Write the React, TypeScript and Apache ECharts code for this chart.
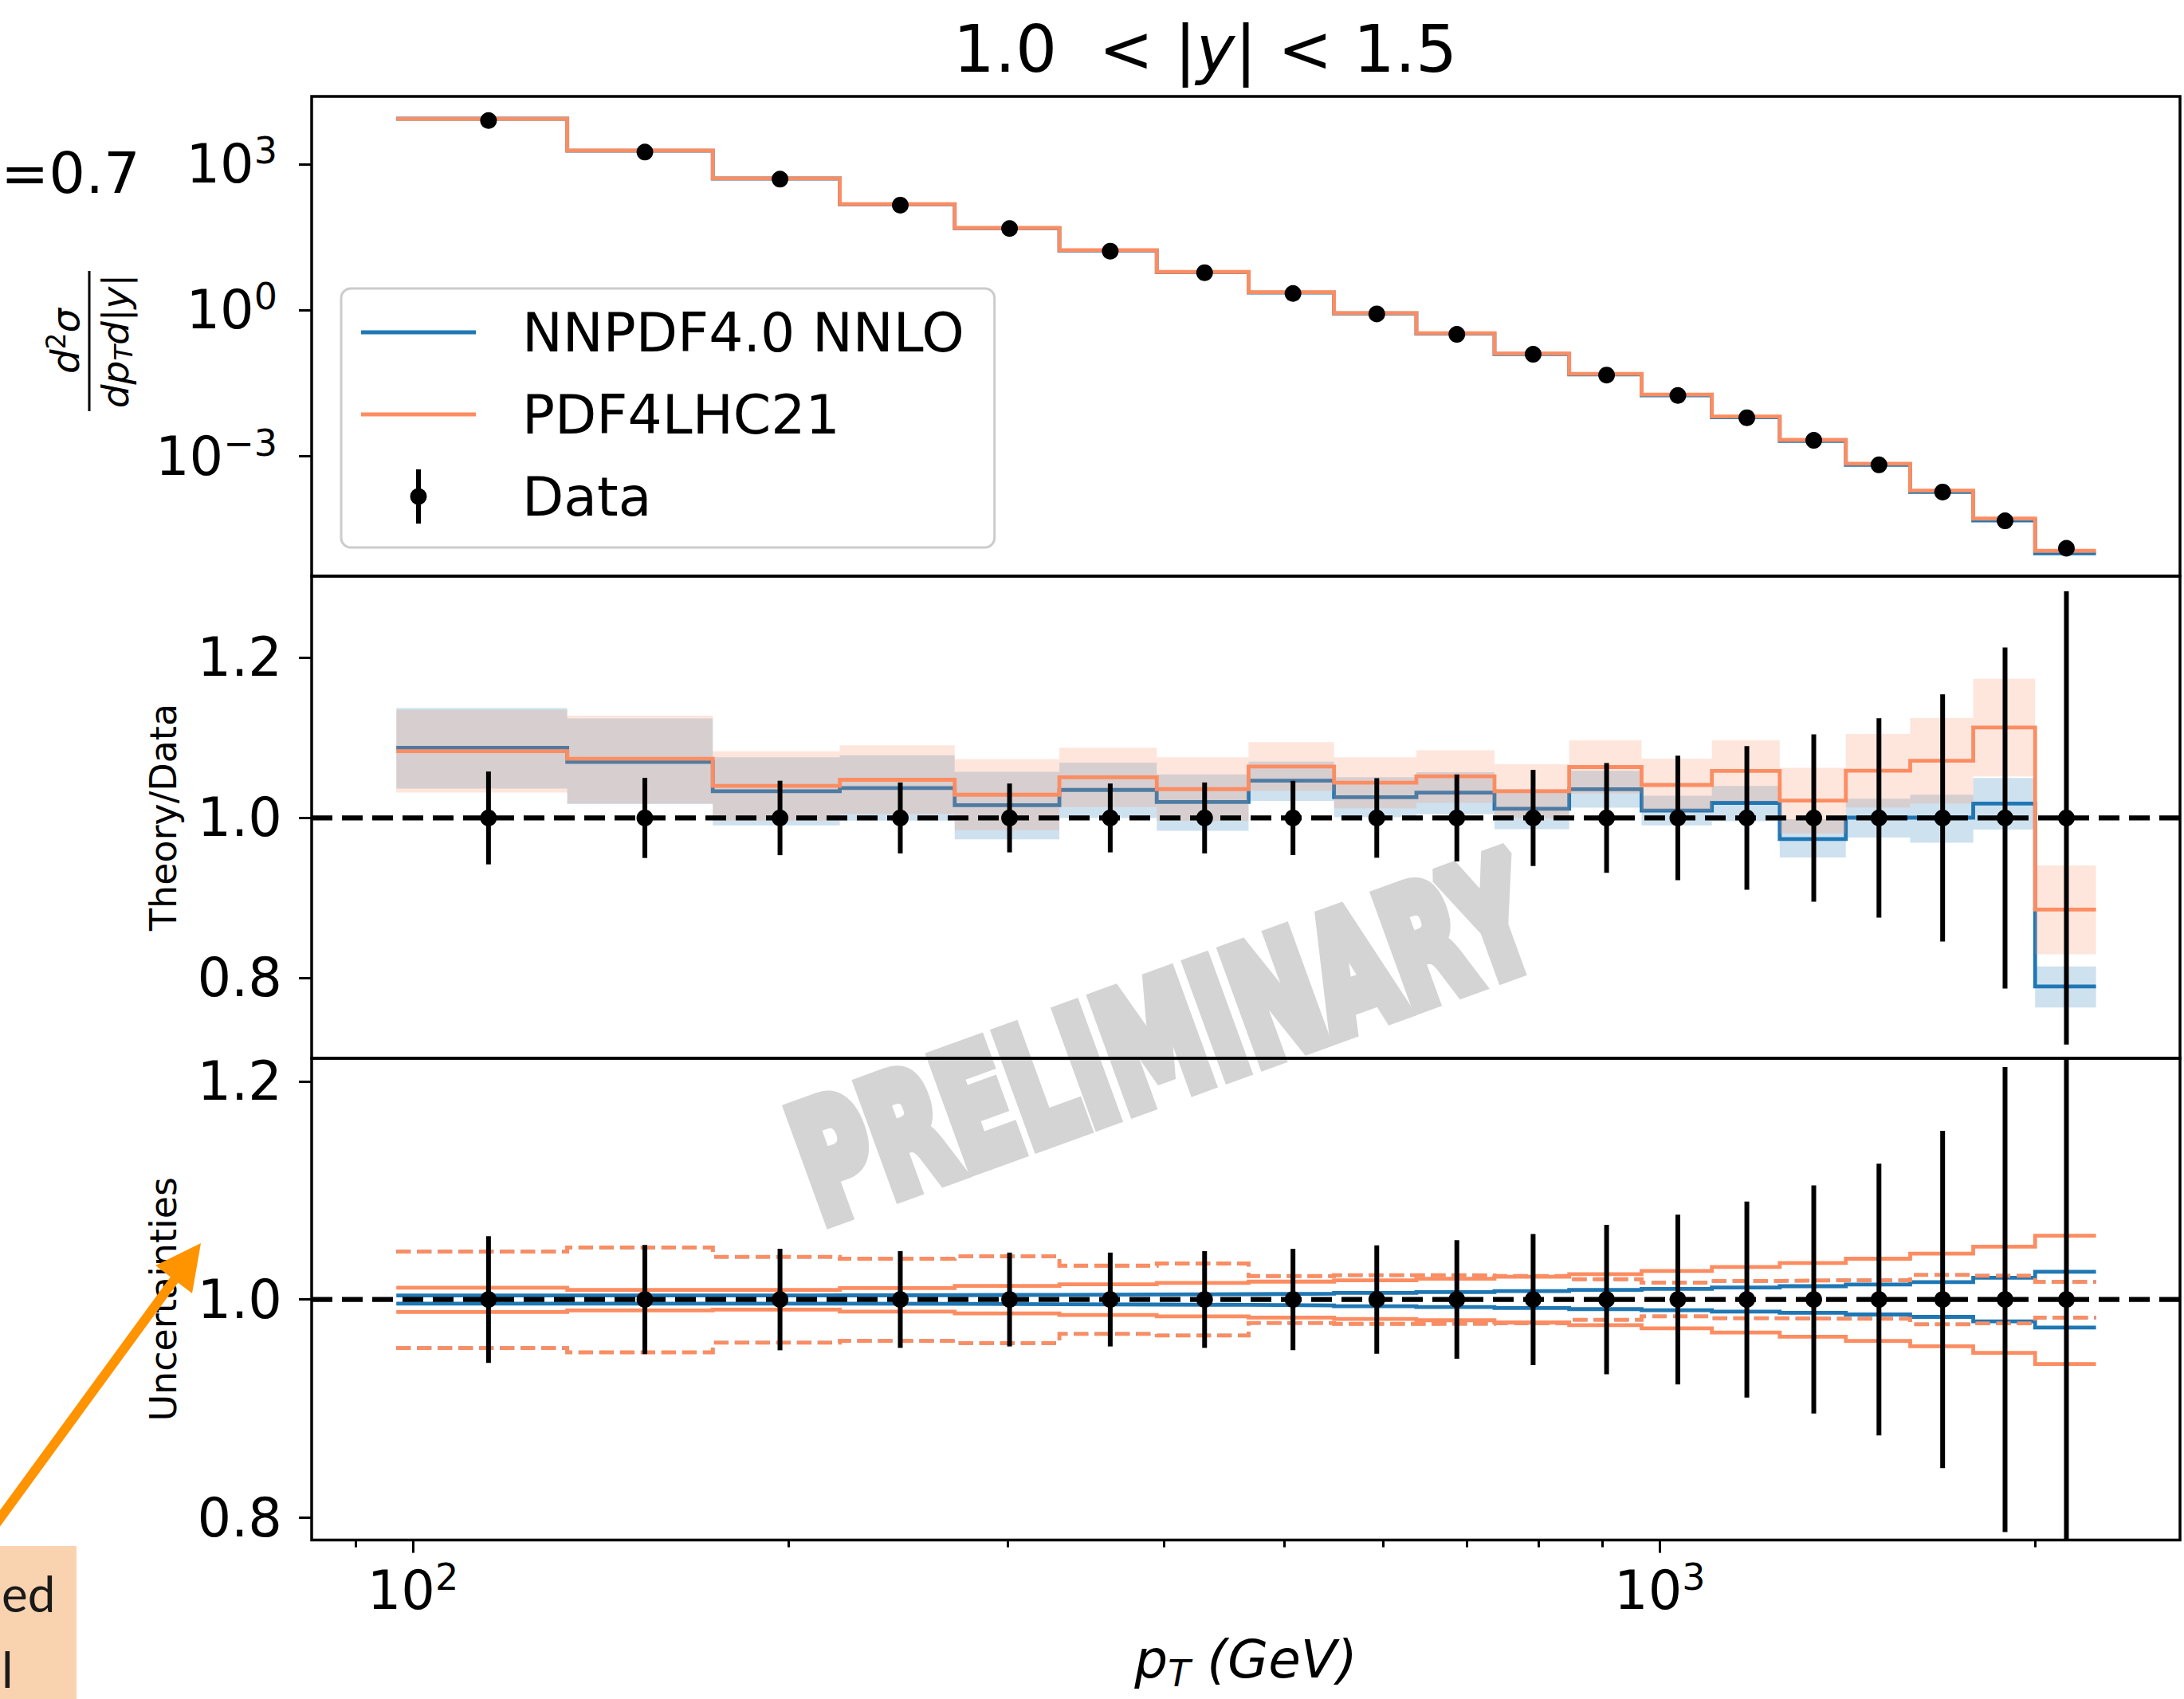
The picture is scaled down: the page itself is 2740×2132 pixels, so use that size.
import React, { useEffect, useRef } from 'react';
import * as echarts from 'echarts';

const W = 2740;
const H = 2132;
const FONT = 'DejaVu Sans';

// ---- binning (pT, GeV) ----
const binEdges = [97, 133, 174, 220, 272, 330, 395, 468, 548, 638, 737, 846, 967, 1101, 1248, 1410, 1588, 1784, 2000, 2238];
const binCenters = [115, 153.5, 197, 246, 301, 362.5, 431.5, 508, 593, 687.5, 791.5, 906.5, 1034, 1174.5, 1329, 1499, 1686, 1892, 2119];

// ---- data ----
const dataXsec = [7930, 1782, 494, 145, 47.9, 16.4, 5.93, 2.22, 0.843, 0.321, 0.125, 0.0467, 0.0178, 0.00621, 0.00213, 0.000668, 0.000185, 0.0000472, 0.0000129];
const dataRelErr = [0.058, 0.05, 0.0465, 0.0443, 0.043, 0.043, 0.0443, 0.0464, 0.0497, 0.0543, 0.06, 0.0685, 0.0778, 0.0898, 0.1045, 0.1245, 0.1545, 0.213, 0.283];

// ---- theory / data ----
const nnRatio = [1.0877, 1.07, 1.0333, 1.0373, 1.016, 1.035, 1.02, 1.0466, 1.026, 1.0316, 1.0114, 1.0359, 1.0092, 1.0188, 0.9737, 1.0004, 1.0004, 1.018, 0.7895];
const nnRatioHigh = [1.1373, 1.1243, 1.0757, 1.0783, 1.0577, 1.069, 1.0544, 1.0704, 1.0508, 1.0572, 1.0359, 1.059, 1.0277, 1.04, 0.9985, 1.024, 1.029, 1.05, 0.8144];
const nnRatioLow = [1.0367, 1.0173, 0.9907, 0.9967, 0.9733, 1.0, 0.984, 1.0213, 1.001, 1.0046, 0.986, 1.0128, 0.9907, 0.996, 0.9506, 0.9755, 0.969, 0.9854, 0.7632];
const pdfRatio = [1.0833, 1.074, 1.04, 1.0477, 1.029, 1.0507, 1.036, 1.0643, 1.044, 1.052, 1.0334, 1.0636, 1.0412, 1.0587, 1.0217, 1.059, 1.0715, 1.113, 0.8855];
const pdfRatioHigh = [1.135, 1.1277, 1.0833, 1.0907, 1.0733, 1.0877, 1.0757, 1.0946, 1.0757, 1.0846, 1.0672, 1.097, 1.074, 1.097, 1.0626, 1.1049, 1.1248, 1.1738, 0.9406];
const pdfRatioLow = [1.0317, 1.0183, 0.9967, 1.0047, 0.9847, 1.0137, 0.9963, 1.034, 1.012, 1.019, 0.9996, 1.0306, 1.0084, 1.0204, 0.9808, 1.013, 1.018, 1.052, 0.8297];

// ---- relative uncertainties ----
const nnPdfUp = [1.0037, 1.0037, 1.0038, 1.004, 1.0043, 1.0046, 1.0049, 1.0054, 1.0061, 1.0068, 1.0078, 1.0088, 1.0098, 1.011, 1.0122, 1.0137, 1.0159, 1.02, 1.0255];
const nnPdfDn = [0.9963, 0.9963, 0.9962, 0.996, 0.9957, 0.9954, 0.9951, 0.9946, 0.9939, 0.9932, 0.9922, 0.9912, 0.9902, 0.989, 0.9878, 0.9863, 0.9841, 0.98, 0.9743];
const nnScaleUp = [1.0438, 1.0477, 1.0391, 1.0374, 1.0396, 1.031, 1.033, 1.0215, 1.0223, 1.0222, 1.0216, 1.0186, 1.0154, 1.0171, 1.0176, 1.0176, 1.0225, 1.0218, 1.0161];
const nnScaleDn = [0.9555, 0.9516, 0.9604, 0.9621, 0.9601, 0.9685, 0.967, 0.9785, 0.9777, 0.9778, 0.9784, 0.9814, 0.9846, 0.9829, 0.9824, 0.9824, 0.9773, 0.9782, 0.9834];
const pdf4PdfUp = [1.0108, 1.0088, 1.0088, 1.0105, 1.0125, 1.0139, 1.0152, 1.0164, 1.0176, 1.019, 1.0208, 1.0232, 1.0262, 1.0298, 1.0335, 1.0374, 1.042, 1.0484, 1.0584];
const pdf4PdfDn = [0.9885, 0.99, 0.9907, 0.989, 0.9873, 0.9858, 0.9845, 0.9834, 0.9822, 0.981, 0.979, 0.9765, 0.9736, 0.9697, 0.966, 0.9621, 0.9572, 0.9511, 0.941];
const pdf4ScaleUp = [1.0438, 1.0477, 1.0391, 1.0374, 1.0396, 1.031, 1.033, 1.0215, 1.0223, 1.0222, 1.0216, 1.0186, 1.0154, 1.0171, 1.0176, 1.0176, 1.0225, 1.0218, 1.0161];
const pdf4ScaleDn = [0.9555, 0.9516, 0.9604, 0.9621, 0.9601, 0.9685, 0.967, 0.9785, 0.9777, 0.9778, 0.9784, 0.9814, 0.9846, 0.9829, 0.9824, 0.9824, 0.9773, 0.9782, 0.9834];

// ---- axes ----
const X_MIN = 82.96;
const X_MAX = 2613.6;
const xMajorTicks = [100, 1000];
const xMinorTicks = [90, 200, 300, 400, 500, 600, 700, 800, 900, 2000];
const TOP_Y_MIN = 3.45e-6;
const TOP_Y_MAX = 24800;
const topYTicks = [1e-3, 1, 1e3];
const MID_Y_MIN = 0.6998;
const MID_Y_MAX = 1.302;
const BOT_Y_MIN = 0.7796;
const BOT_Y_MAX = 1.221;
const ratioTicks = [0.8, 1.0, 1.2];

const BLUE = '#1f77b4';
const ORANGE = '#fc8d62';
const BLUE_FILL = 'rgba(31,119,180,0.22)';
const ORANGE_FILL = 'rgba(252,141,98,0.22)';
const LW = 4.8;

const stepPoints = (vals: number[]) => {
  const pts = vals.map((v, i) => [binEdges[i], v]);
  pts.push([binEdges[binEdges.length - 1], vals[vals.length - 1]]);
  return pts;
};

const stepLine = (name: string, idx: number, vals: number[], color: string, z: number, dashed = false, width = LW) => ({
  type: 'line',
  name,
  xAxisIndex: idx,
  yAxisIndex: idx,
  data: stepPoints(vals),
  step: 'end',
  symbol: 'none',
  showSymbol: false,
  silent: true,
  z,
  color,
  itemStyle: { color, borderWidth: 0 },
  lineStyle: { color, width, type: dashed ? [18, 8] : 'solid', cap: 'butt', join: 'miter' },
  emphasis: { disabled: true },
});

const bandSeries = (name: string, lows: number[], highs: number[], fill: string, z: number) => ({
  type: 'custom',
  name,
  xAxisIndex: 1,
  yAxisIndex: 1,
  z,
  silent: true,
  data: lows.map((lo, i) => [binEdges[i], binEdges[i + 1], lo, highs[i]]),
  encode: { x: [0, 1], y: [2, 3] },
  renderItem: (params: any, api: any) => {
    if (params.dataIndex !== 0) return null;
    const upper: number[][] = [];
    const lower: number[][] = [];
    for (let j = 0; j < lows.length; j++) {
      const x0 = api.value(0, j);
      const x1 = api.value(1, j);
      const lo = api.value(2, j);
      const hi = api.value(3, j);
      upper.push(api.coord([x0, hi]), api.coord([x1, hi]));
      lower.push(api.coord([x0, lo]), api.coord([x1, lo]));
    }
    return { type: 'polygon', shape: { points: upper.concat(lower.reverse()) }, style: { fill } };
  },
});

const dataSeries = (name: string, idx: number, ys: number[], los: number[], his: number[]) => ({
  type: 'custom',
  name,
  xAxisIndex: idx,
  yAxisIndex: idx,
  z: 10,
  silent: true,
  itemStyle: { color: '#000' },
  data: binCenters.map((x, i) => [x, ys[i], los[i], his[i]]),
  encode: { x: 0, y: 1 },
  renderItem: (params: any, api: any) => {
    const x = api.value(0);
    const c = api.coord([x, api.value(1)]);
    const a = api.coord([x, api.value(2)]);
    const b = api.coord([x, api.value(3)]);
    const cs = params.coordSys;
    const top = cs.y;
    const bot = cs.y + cs.height;
    const y1 = Math.min(bot, Math.max(top, b[1]));
    const y2 = Math.min(bot, Math.max(top, a[1]));
    return {
      type: 'group',
      children: [
        { type: 'line', shape: { x1: c[0], y1, x2: c[0], y2 }, style: { stroke: '#000', lineWidth: 6 } },
        { type: 'circle', shape: { cx: c[0], cy: c[1], r: 10.5 }, style: { fill: '#000' } },
      ],
    };
  },
});

const unityLine = (idx: number) => ({
  type: 'line',
  name: 'unity' + idx,
  xAxisIndex: idx,
  yAxisIndex: idx,
  data: [[X_MIN, 1], [X_MAX, 1]],
  symbol: 'none',
  showSymbol: false,
  silent: true,
  z: 8,
  lineStyle: { color: '#000', width: 6.3, type: [26, 12], cap: 'butt' },
  itemStyle: { color: '#000' },
  emphasis: { disabled: true },
});

const powLabel = (v: number) => {
  const e = Math.round(Math.log10(v));
  return `{b|10}{s|${e < 0 ? '\u2212' + -e : e}}`;
};
const powRich = {
  b: { fontSize: 67, fontFamily: FONT, color: '#000', lineHeight: 80 },
  s: { fontSize: 46, fontFamily: FONT, color: '#000', lineHeight: 44, verticalAlign: 'top' },
};

const tickStyle = { color: '#000', width: 3 };

const hiddenX = (gridIndex: number) => ({
  gridIndex,
  type: 'log',
  logBase: 10,
  min: X_MIN,
  max: X_MAX,
  position: 'bottom',
  axisLine: { show: false },
  axisTick: { show: false },
  axisLabel: { show: false },
  splitLine: { show: false },
  minorTick: { show: false },
});

const ratioY = (gridIndex: number, min: number, max: number, name: string) => ({
  gridIndex,
  type: 'value',
  min,
  max,
  name,
  nameLocation: 'middle',
  nameGap: 163,
  nameRotate: 90,
  nameTextStyle: { fontSize: 46, fontFamily: FONT, color: '#000' },
  axisLine: { show: false },
  splitLine: { show: false },
  axisTick: { show: true, length: 16, lineStyle: tickStyle, customValues: ratioTicks },
  axisLabel: {
    show: true,
    customValues: ratioTicks,
    margin: 37,
    fontSize: 67,
    fontFamily: FONT,
    color: '#000',
    formatter: (v: number) => v.toFixed(1),
  },
});

const lineIcon = 'path://M0,0M144,70M0,32.5L144,32.5L144,37.5L0,37.5Z';
const dataIcon = 'path://M0,0M144,70M69,1L75,1L75,69L69,69ZM61.5,35A10.5,10.5,0,1,1,82.5,35A10.5,10.5,0,1,1,61.5,35Z';

function buildOption() {
  const nnTheory = dataXsec.map((d, i) => d * nnRatio[i]);
  const pdfTheory = dataXsec.map((d, i) => d * pdfRatio[i]);
  const ones = binCenters.map(() => 1);
  const errLo = dataRelErr.map((e) => 1 - e);
  const errHi = dataRelErr.map((e) => 1 + e);
  const topLo = dataXsec.map((d, i) => d * (1 - dataRelErr[i]));
  const topHi = dataXsec.map((d, i) => d * (1 + dataRelErr[i]));

  const gridBase = {
    show: true,
    borderColor: '#000',
    borderWidth: 3.5,
    backgroundColor: 'transparent',
    containLabel: false,
    outerBoundsMode: 'none',
    left: 391,
    width: 2344,
  };

  return {
    animation: false,
    backgroundColor: '#ffffff',
    textStyle: { fontFamily: FONT },
    grid: [
      { ...gridBase, top: 121, height: 602 },
      { ...gridBase, top: 723, height: 605 },
      { ...gridBase, top: 1328, height: 604.6 },
    ],
    xAxis: [
      hiddenX(0),
      hiddenX(1),
      {
        gridIndex: 2,
        type: 'log',
        logBase: 10,
        min: X_MIN,
        max: X_MAX,
        position: 'bottom',
        name: '{i|p}{sub|T}{i| (GeV)}',
        nameLocation: 'middle',
        nameGap: 110,
        nameTextStyle: {
          rich: {
            i: { fontSize: 66, fontFamily: FONT, fontStyle: 'italic', color: '#000', lineHeight: 80 },
            sub: { fontSize: 46, fontFamily: FONT, fontStyle: 'italic', color: '#000', lineHeight: 56, verticalAlign: 'bottom' },
          },
        },
        axisLine: { show: false },
        splitLine: { show: false },
        minorTick: { show: false },
        axisTick: { show: true, length: 16, lineStyle: tickStyle, customValues: xMajorTicks },
        axisLabel: { show: true, customValues: xMajorTicks, margin: 23, formatter: powLabel, rich: powRich },
      },
      {
        gridIndex: 2,
        type: 'log',
        logBase: 10,
        min: X_MIN,
        max: X_MAX,
        position: 'bottom',
        offset: 0,
        axisLine: { show: false },
        splitLine: { show: false },
        minorTick: { show: false },
        axisTick: { show: true, length: 9, lineStyle: tickStyle, customValues: xMinorTicks },
        axisLabel: { show: false },
      },
    ],
    yAxis: [
      {
        gridIndex: 0,
        type: 'log',
        logBase: 10,
        min: TOP_Y_MIN,
        max: TOP_Y_MAX,
        axisLine: { show: false },
        splitLine: { show: false },
        minorTick: { show: false },
        axisTick: { show: true, length: 16, lineStyle: tickStyle, customValues: topYTicks },
        axisLabel: { show: true, customValues: topYTicks, margin: 43, formatter: powLabel, rich: powRich },
      },
      ratioY(1, MID_Y_MIN, MID_Y_MAX, 'Theory/Data'),
      ratioY(2, BOT_Y_MIN, BOT_Y_MAX, 'Uncertainties'),
    ],
    legend: {
      show: true,
      orient: 'vertical',
      left: 428,
      top: 362,
      padding: [15, 38, 24, 25],
      itemGap: 23,
      itemWidth: 144,
      itemHeight: 70,
      backgroundColor: 'rgba(255,255,255,0.8)',
      borderColor: '#cccccc',
      borderWidth: 3,
      borderRadius: 12,
      selectedMode: false,
      itemStyle: { borderWidth: 0 },
      textStyle: { fontSize: 68, fontFamily: FONT, color: '#000', lineHeight: 80, padding: [0, 0, 0, 53] },
      data: [
        { name: 'NNPDF4.0 NNLO', icon: lineIcon },
        { name: 'PDF4LHC21', icon: lineIcon },
        { name: 'Data', icon: dataIcon },
      ],
    },
    series: [
      // top panel
      stepLine('NNPDF4.0 NNLO', 0, nnTheory, BLUE, 3),
      stepLine('PDF4LHC21', 0, pdfTheory, ORANGE, 4),
      dataSeries('Data', 0, dataXsec, topLo, topHi),
      // ratio panel
      bandSeries('NNPDF4.0 NNLO band', nnRatioLow, nnRatioHigh, BLUE_FILL, 2),
      stepLine('NNPDF4.0 NNLO ratio', 1, nnRatio, BLUE, 3),
      bandSeries('PDF4LHC21 band', pdfRatioLow, pdfRatioHigh, ORANGE_FILL, 4),
      stepLine('PDF4LHC21 ratio', 1, pdfRatio, ORANGE, 5),
      unityLine(1),
      dataSeries('Data ratio', 1, ones, errLo, errHi),
      // uncertainties panel
      stepLine('NNPDF4.0 PDF up', 2, nnPdfUp, BLUE, 3),
      stepLine('NNPDF4.0 PDF down', 2, nnPdfDn, BLUE, 3),
      stepLine('NNPDF4.0 scale up', 2, nnScaleUp, BLUE, 3, true, 4.2),
      stepLine('NNPDF4.0 scale down', 2, nnScaleDn, BLUE, 3, true, 4.2),
      stepLine('PDF4LHC21 PDF up', 2, pdf4PdfUp, ORANGE, 4),
      stepLine('PDF4LHC21 PDF down', 2, pdf4PdfDn, ORANGE, 4),
      stepLine('PDF4LHC21 scale up', 2, pdf4ScaleUp, ORANGE, 4, true, LW),
      stepLine('PDF4LHC21 scale down', 2, pdf4ScaleDn, ORANGE, 4, true, LW),
      unityLine(2),
      dataSeries('Data unc', 2, ones, errLo, errHi),
    ],
    graphic: [
      {
        type: 'text',
        x: 1460,
        y: 1305,
        rotation: (20 * Math.PI) / 180,
        scaleX: 0.635,
        z: -1,
        silent: true,
        style: {
          text: 'PRELIMINARY',
          fontSize: 200,
          fontWeight: 'bold',
          fontFamily: FONT,
          fill: '#d4d4d4',
          stroke: '#d4d4d4',
          lineWidth: 20,
          align: 'center',
          verticalAlign: 'middle',
          textAlign: 'center',
          textVerticalAlign: 'middle',
        },
      },
      {
        type: 'text',
        x: 1512,
        y: 61,
        z: 20,
        style: {
          text: '{n|1.0  < |}{i|y}{n|| < 1.5}',
          rich: {
            n: { fontSize: 82, fontFamily: FONT, fill: '#000' },
            i: { fontSize: 82, fontFamily: FONT, fontStyle: 'italic', fill: '#000' },
          },
          align: 'center',
          verticalAlign: 'middle',
          textAlign: 'center',
          textVerticalAlign: 'middle',
        },
      },
      {
        type: 'text',
        x: 1,
        y: 217,
        z: 20,
        style: {
          text: '=0.7',
          fontSize: 72,
          fontFamily: FONT,
          fill: '#000',
          align: 'left',
          verticalAlign: 'middle',
          textAlign: 'left',
          textVerticalAlign: 'middle',
        },
      },
      {
        type: 'group',
        x: 112,
        y: 428,
        rotation: Math.PI / 2,
        z: 20,
        children: [
          {
            type: 'text',
            x: 0,
            y: -30,
            style: {
              text: '{i|d}{s|2}{i|\u03c3}',
              rich: {
                i: { fontSize: 48, fontFamily: FONT, fontStyle: 'italic', fill: '#000', lineHeight: 56 },
                s: { fontSize: 33, fontFamily: FONT, fill: '#000', lineHeight: 36, verticalAlign: 'top' },
              },
              align: 'center',
              verticalAlign: 'middle',
              textAlign: 'center',
              textVerticalAlign: 'middle',
            },
          },
          { type: 'line', shape: { x1: -88, y1: 0, x2: 88, y2: 0 }, style: { stroke: '#000', lineWidth: 3 } },
          {
            type: 'text',
            x: 0,
            y: 32,
            style: {
              text: '{i|dp}{sub|T}{i|d|y|}',
              rich: {
                i: { fontSize: 47, fontFamily: FONT, fontStyle: 'italic', fill: '#000', lineHeight: 54 },
                sub: { fontSize: 32, fontFamily: FONT, fontStyle: 'italic', fill: '#000', lineHeight: 40, verticalAlign: 'bottom' },
              },
              align: 'center',
              verticalAlign: 'middle',
              textAlign: 'center',
              textVerticalAlign: 'middle',
            },
          },
        ],
      },
      { type: 'rect', z: 20, shape: { x: 0, y: 1940, width: 96, height: 192 }, style: { fill: '#f9d3b0' } },
      {
        type: 'text',
        x: 2,
        y: 1999,
        z: 21,
        style: {
          text: 'ed',
          fontSize: 62,
          fontFamily: 'Lato',
          fill: '#1a1a1a',
          align: 'left',
          verticalAlign: 'middle',
          textAlign: 'left',
          textVerticalAlign: 'middle',
        },
      },
      {
        type: 'text',
        x: 2,
        y: 2094,
        z: 21,
        style: {
          text: 'l',
          fontSize: 62,
          fontFamily: 'Lato',
          fill: '#1a1a1a',
          align: 'left',
          verticalAlign: 'middle',
          textAlign: 'left',
          textVerticalAlign: 'middle',
        },
      },
      {
        type: 'line',
        z: 22,
        shape: { x1: -20, y1: 1932.6, x2: 220, y2: 1604 },
        style: { stroke: '#ff9300', lineWidth: 12 },
      },
      {
        type: 'polygon',
        z: 22,
        shape: { points: [[252, 1560], [195, 1588], [241, 1623]] },
        style: { fill: '#ff9300' },
      },
    ],
  };
}

export default function App() {
  const ref = useRef<HTMLDivElement>(null);
  useEffect(() => {
    if (!ref.current) return;
    const chart = echarts.init(ref.current, null, { renderer: 'svg', width: W, height: H });
    chart.setOption(buildOption() as any);
    return () => {
      chart.dispose();
    };
  }, []);
  return (
    <div
      ref={ref}
      style={{ position: 'absolute', left: 0, top: 0, width: W, height: H, background: '#fff' }}
    />
  );
}
